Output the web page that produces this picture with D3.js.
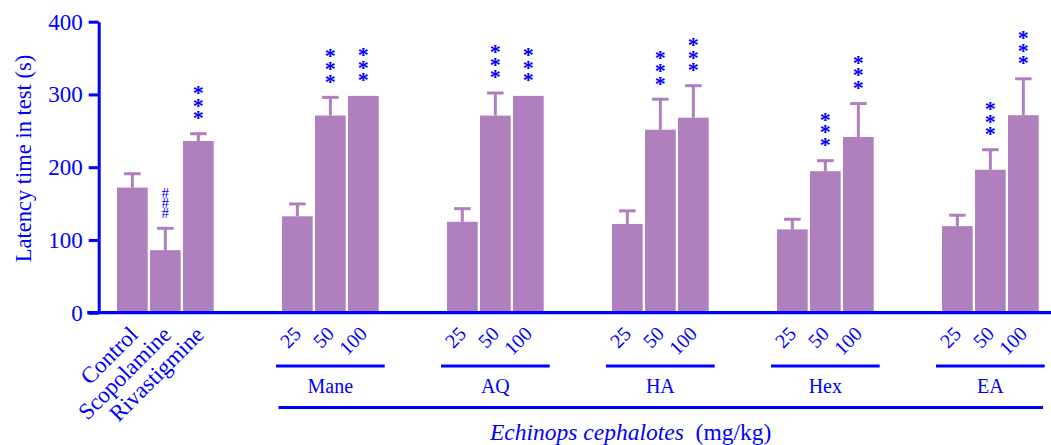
<!DOCTYPE html>
<html>
<head>
<meta charset="utf-8">
<script src="https://cdn.jsdelivr.net/npm/d3@7"></script>
<style>
  html, body { margin: 0; padding: 0; background: #ffffff; }
  svg { display: block; }
</style>
</head>
<body>
<svg id="chart" width="1051" height="445"></svg>
<script>
// ---------- data ----------
const controlCategories = ["Control", "Scopolamine", "Rivastigmine"];
const controlMeans = [172, 86, 236];
const controlSEM = [19, 30, 10];
const controlMarks = ["", "###", "***"];

const extractGroups = ["Mane", "AQ", "HA", "Hex", "EA"];
const doseLabels = ["25", "50", "100"];

const maneMeans = [132.5, 271, 298];
const maneSEM = [17, 25, 0];
const aqMeans = [125, 271, 298];
const aqSEM = [18, 31, 0];
const haMeans = [122, 251.5, 268];
const haSEM = [18, 42, 44];
const hexMeans = [114.5, 194.5, 241.5];
const hexSEM = [14, 14.5, 46];
const eaMeans = [119, 196.5, 271.5];
const eaSEM = [15, 27.5, 50];
const doseMarks = ["", "***", "***"];

const yTicks = [0, 100, 200, 300, 400];
const yTitle = "Latency time in test (s)";
const xTitleItalic = "Echinops cephalotes";
const xTitleUnit = "(mg/kg)";

// ---------- build rows ----------
const groupMeans = [maneMeans, aqMeans, haMeans, hexMeans, eaMeans];
const groupSEM = [maneSEM, aqSEM, haSEM, hexSEM, eaSEM];

const rows = [];
controlCategories.forEach((c, i) => {
  rows.push({slot: i, label: c, mean: controlMeans[i], sem: controlSEM[i], mark: controlMarks[i], group: null});
});
extractGroups.forEach((g, gi) => {
  doseLabels.forEach((d, di) => {
    rows.push({slot: 5 * (gi + 1) + di, label: d, mean: groupMeans[gi][di], sem: groupSEM[gi][di], mark: doseMarks[di], group: g});
  });
});

// ---------- scales ----------
const BLUE = "#0000ff";
const PURPLE = "#b07fbe";
const svg = d3.select("#chart");
const FONT = "'Liberation Serif', 'Times New Roman', serif";

const slots = d3.range(28);
const x = d3.scaleBand().domain(slots).range([115.85, 1039.85]).paddingInner(0.07).paddingOuter(0.035);
const y = d3.scaleLinear().domain([0, 400]).range([312.7, 21.7]);
const cx = s => x(s) + x.bandwidth() / 2;

// ---------- bars ----------
svg.append("g").selectAll("rect").data(rows).join("rect")
  .attr("x", d => x(d.slot))
  .attr("y", d => y(d.mean))
  .attr("width", x.bandwidth())
  .attr("height", d => y(0) - y(d.mean))
  .attr("fill", PURPLE);

// ---------- error bars ----------
const eb = svg.append("g").attr("stroke", PURPLE).attr("stroke-width", 3).attr("fill", "none");
rows.filter(d => d.sem > 0).forEach(d => {
  eb.append("line").attr("x1", cx(d.slot)).attr("x2", cx(d.slot))
    .attr("y1", y(d.mean)).attr("y2", y(d.mean + d.sem));
  eb.append("line").attr("x1", cx(d.slot) - 8.3).attr("x2", cx(d.slot) + 8.3)
    .attr("y1", y(d.mean + d.sem)).attr("y2", y(d.mean + d.sem));
});

// ---------- significance marks: one vertical text, glyphs kept upright ----------
const ctx = document.createElement("canvas").getContext("2d");
function glyphMetrics(ch, fs, weight) {
  ctx.font = `${weight} ${fs}px 'Liberation Serif'`;
  const m = ctx.measureText(ch);
  return {adv: m.width, off: (m.actualBoundingBoxAscent - m.actualBoundingBoxDescent) / 2};
}
const markLayer = svg.append("g").attr("fill", BLUE).attr("font-family", FONT);
function stackChars(xc, yBottom, mark, spacing, fs, weight) {
  const g = glyphMetrics(mark[0], fs, weight);
  markLayer.append("text")
    .attr("transform", `translate(${xc - g.adv / 2},${yBottom + g.off}) rotate(-90)`)
    .attr("rotate", "90")
    .attr("text-anchor", "start")
    .attr("font-size", fs)
    .attr("font-weight", weight)
    .attr("letter-spacing", spacing - g.adv)
    .text(mark);
}
rows.filter(d => d.mark).forEach(d => {
  const top = y(d.mean + d.sem);
  if (d.mark[0] === "*") stackChars(cx(d.slot), top - 18, d.mark, 12.7, 22, "bold");
  else stackChars(cx(d.slot), top - 15.7, d.mark, 10, 15, "normal");
});

// ---------- y axis ----------
const yAxis = svg.append("g")
  .attr("transform", "translate(98.7,0)")
  .call(d3.axisLeft(y).tickValues(yTicks).tickSize(10).tickSizeOuter(0).tickPadding(6));
yAxis.select(".domain").attr("stroke", BLUE).attr("stroke-width", 3);
yAxis.selectAll(".tick line").attr("stroke", BLUE).attr("stroke-width", 3);
yAxis.selectAll(".tick text").attr("fill", BLUE).attr("font-family", FONT).attr("font-size", 23);

// x axis baseline
svg.append("line").attr("x1", 87.2).attr("x2", 1051).attr("y1", y(0)).attr("y2", y(0))
  .attr("stroke", BLUE).attr("stroke-width", 3.2);

// y title
svg.append("text")
  .attr("transform", "translate(30.5,158.5) rotate(-90)")
  .attr("text-anchor", "middle")
  .attr("fill", BLUE).attr("font-family", FONT).attr("font-size", 22.5)
  .text(yTitle);

// ---------- category labels ----------
const lab = svg.append("g").attr("fill", BLUE).attr("font-family", FONT);
rows.forEach(d => {
  const isCtrl = d.group === null;
  lab.append("text")
    .attr("transform", `translate(${cx(d.slot) + (isCtrl ? 7 : 5)},${isCtrl ? 336 : 335}) rotate(-45)`)
    .attr("text-anchor", "end")
    .attr("font-size", isCtrl ? 23 : 20)
    .text(d.label);
});

// ---------- group brackets ----------
extractGroups.forEach((g, gi) => {
  const s0 = 5 * (gi + 1), s2 = s0 + 2;
  const left = x(s0) - 6, right = x(s2) + x.bandwidth() + 6;
  svg.append("line").attr("x1", left).attr("x2", right).attr("y1", 366).attr("y2", 366)
    .attr("stroke", BLUE).attr("stroke-width", 3);
  svg.append("text")
    .attr("x", (x(s0) + x(s2) + x.bandwidth()) / 2).attr("y", 393)
    .attr("text-anchor", "middle")
    .attr("fill", BLUE).attr("font-family", FONT).attr("font-size", 20)
    .text(g);
});

svg.append("line").attr("x1", 278.5).attr("x2", 1043).attr("y1", 407.5).attr("y2", 407.5)
  .attr("stroke", BLUE).attr("stroke-width", 3);

const xt = svg.append("text")
  .attr("x", 490).attr("y", 439.5)
  .attr("text-anchor", "start")
  .attr("fill", BLUE).attr("font-family", FONT).attr("font-size", 23.5);
xt.append("tspan").attr("font-style", "italic").text(xTitleItalic);
xt.append("tspan").text("\u00a0 " + xTitleUnit);
</script>
</body>
</html>
